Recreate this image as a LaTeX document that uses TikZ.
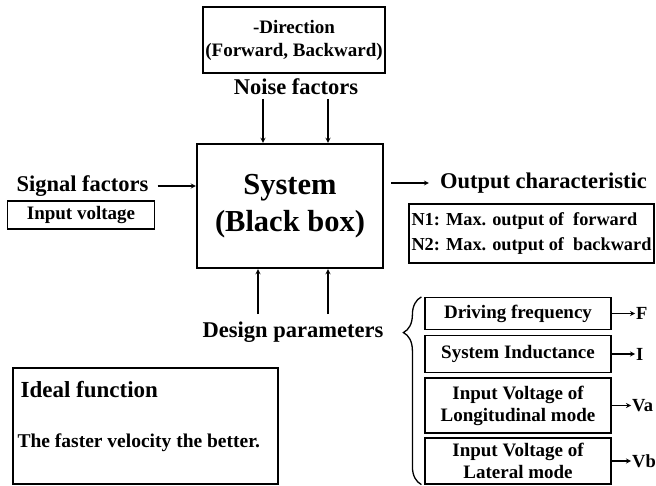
\documentclass[tikz,border=0pt]{standalone}
\usepackage{fontspec}
\setmainfont{Liberation Serif}
\usetikzlibrary{arrows,positioning,calc,decorations.pathreplacing}

\begin{document}
\begin{tikzpicture}[x=1pt, y=-1pt,
    box/.style={draw, line width=1.2pt, inner sep=1pt, align=center, font=\fontsize{19}{22}\selectfont\bfseries},
    sysbox/.style={draw, line width=2.4pt, minimum width=186pt, minimum height=124pt, align=center, font=\fontsize{30.5}{37}\selectfont\bfseries},
    lbl/.style={font=\fontsize{22.5}{24}\selectfont\bfseries, inner sep=1pt},
    sym/.style={font=\fontsize{18.5}{20}\selectfont\bfseries, inner sep=1pt, anchor=west},
    arrow/.style={->, line width=1.2pt, >=stealth}]

    \useasboundingbox (0,0) rectangle (656,486);

    % system and noise
    \node[sysbox] (sys) at (290,206) {System\\(Black box)};
    \node[box, minimum width=182pt, minimum height=66pt, font=\fontsize{19}{23}\selectfont\bfseries] (dir) at (294,40) {-Direction\\(Forward, Backward)};
    \node[lbl] (noise) at (296,87) {Noise factors};
    \draw[arrow] ($(sys.north)+(-27,-44)$) -- ($(sys.north)+(-27,0)$);
    \draw[arrow] ($(sys.north)+(38,-44)$) -- ($(sys.north)+(38,0)$);

    % signal
    \node[lbl] (sig) at (82.5,186) {Signal factors};
    \node[box, minimum width=147pt, minimum height=28pt] (volt) at (81,215) {Input voltage};
    \draw[arrow, shorten <=8pt] (sig.east) -- (sig.east -| sys.west);

    % output
    \node[lbl] (out) at (543.5,183) {Output characteristic};
    \draw[arrow] ([xshift=7]sys.east |- out.west) -- ([xshift=-10]out.west);
    \node[box, minimum width=245pt, minimum height=59pt, align=left, font=\fontsize{18.3}{25}\selectfont\bfseries] (nbox) at (531.5,233.5)
        {N1: Max. output of~~forward\\N2: Max. output of~~backward};

    % design parameters
    \node[lbl] (design) at (293,332) {Design parameters};
    \draw[arrow] ($(sys.south)+(-32,45)$) -- ($(sys.south)+(-32,0)$);
    \draw[arrow] ($(sys.south)+(38,45)$) -- ($(sys.south)+(38,0)$);

    \node[box, minimum width=186pt, minimum height=32pt] (b1) at (518,313.5) {Driving frequency};
    \node[box, minimum width=186pt, minimum height=37pt] (b2) at (518,354) {System Inductance};
    \node[box, minimum width=186pt, minimum height=55pt] (b3) at (518,405.5) {Input Voltage of\\Longitudinal mode};
    \node[box, minimum width=186pt, minimum height=46pt] (b4) at (518,461) {Input Voltage of\\Lateral mode};

    \draw[line width=1.3pt, decorate, decoration={brace, amplitude=18pt, aspect=0.81}]
        ($(b4.south west)+(-3,0)$) -- ($(b1.north west)+(-3,0)$);

    \node[sym] (F) at (635,313.5) {F};
    \node[sym] (I) at (635,354) {I};
    \node[sym] (Va) at (631,405.5) {Va};
    \node[sym] (Vb) at (631,461) {Vb};
    \draw[arrow] (b1.east) -- (F.west);
    \draw[arrow] (b2.east) -- (I.west);
    \draw[arrow] (b3.east) -- (Va.west);
    \draw[arrow] (b4.east) -- (Vb.west);

    % ideal function
    \node[box, minimum width=265pt, minimum height=116pt] (ideal) at (145.5,426) {};
    \node[anchor=west, inner sep=1pt, font=\fontsize{23}{25}\selectfont\bfseries] (idt) at ($(ideal.north west)+(7,22)$) {Ideal function};
    \node[anchor=west, inner sep=1pt, font=\fontsize{19.5}{22}\selectfont\bfseries] (idv) at ($(ideal.north west)+(4,75)$) {The faster velocity the better.};
\end{tikzpicture}
\end{document}
